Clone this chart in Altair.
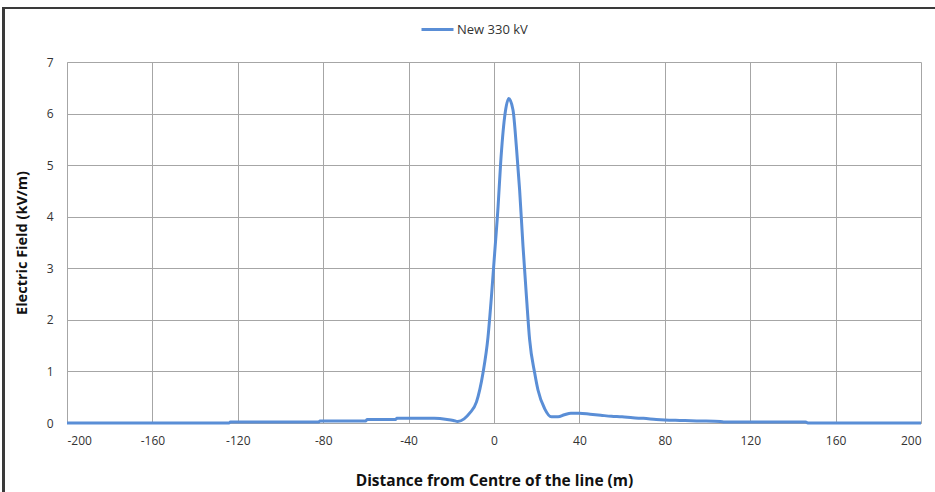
import altair as alt
import pandas as pd

distance_m = [-200, -124, -123.5, -82, -81.5, -60, -59.5, -46, -45.5, -28, -22, -19, -17,
              -14, -11.4, -8.2, -5.2, -2.8, -1.2, 0.3, 1.9, 3.1, 5.0, 6.9, 8.9, 10.5, 12.0,
              13.6, 15.2, 16.7, 19.1, 20.6, 23.7, 26.9, 30, 33, 36, 40, 45, 50, 55, 60, 65,
              70, 76, 80, 87, 95, 106, 108, 146, 147, 200]
field_kvm = [0, 0, 0.02, 0.02, 0.04, 0.04, 0.07, 0.07, 0.09, 0.09, 0.07, 0.05, 0.03,
             0.08, 0.19, 0.41, 0.96, 1.67, 2.45, 3.29, 4.19, 5.03, 5.94, 6.29, 6.07, 5.35, 4.52,
             3.42, 2.45, 1.61, 0.96, 0.64, 0.28, 0.12, 0.12, 0.16, 0.19, 0.19, 0.17, 0.15, 0.13,
             0.12, 0.10, 0.09, 0.07, 0.06, 0.05, 0.04, 0.03, 0.02, 0.02, 0.0, 0.0]
series_name = "New 330 kV"
x_ticks = list(range(-200, 201, 40))
y_ticks = list(range(0, 8))

df = pd.DataFrame({"x": distance_m, "y": field_kvm, "series": series_name})

FONT = "Open Sans"
GRID = "#a6a6a6"

line = alt.Chart(df).mark_line(strokeWidth=3, interpolate="monotone").encode(
    x=alt.X("x:Q", scale=alt.Scale(domain=[-200, 200], nice=False),
            axis=alt.Axis(values=x_ticks, title="Distance from Centre of the line (m)",
                          labelExpr="'' + datum.value",
                          grid=True, gridColor=GRID, ticks=False, labelPadding=12,
                          domainColor=GRID, labelFontSize=12, labelColor="#333333",
                          titleFontSize=15.5, titleFontWeight="bold", titlePadding=27,
                          titleColor="#111111", labelFont=FONT, titleFont=FONT)),
    y=alt.Y("y:Q", scale=alt.Scale(domain=[0, 7], nice=False),
            axis=alt.Axis(values=y_ticks, title="Electric Field (kV/m)",
                          grid=True, gridColor=GRID, ticks=False, labelPadding=14,
                          domainColor=GRID, labelFontSize=12, labelColor="#333333",
                          titleFontSize=14.5, titleFontWeight="bold", titlePadding=17,
                          titleColor="#111111", labelFont=FONT, titleFont=FONT)),
    color=alt.Color("series:N", scale=alt.Scale(domain=[series_name], range=["#5a8ed6"]),
                    legend=alt.Legend(title=None, orient="none", legendX=353, legendY=-50,
                                      symbolType="stroke", symbolSize=1024,
                                      symbolStrokeWidth=3, labelFontSize=13,
                                      labelFont=FONT, labelColor="#333333", labelOffset=2)),
)

frame_top = alt.Chart(df).mark_rule(color="#3a3a3a", strokeWidth=2, clip=False).encode(
    x=alt.value(-64), x2=alt.value(880), y=alt.value(-54))
frame_left = alt.Chart(df).mark_rule(color="#3a3a3a", strokeWidth=2, clip=False).encode(
    x=alt.value(-63.5), y=alt.value(-55), y2=alt.value(440))

chart = alt.layer(line, frame_top, frame_left).properties(
    width=854, height=361,
    autosize=alt.AutoSizeParams(type="none"),
    padding={"left": 67, "top": 62, "right": 14, "bottom": 69},
    background="white",
).configure_view(stroke=None)

chart.save("out.html", embed_options={"renderer": "svg", "actions": False})
